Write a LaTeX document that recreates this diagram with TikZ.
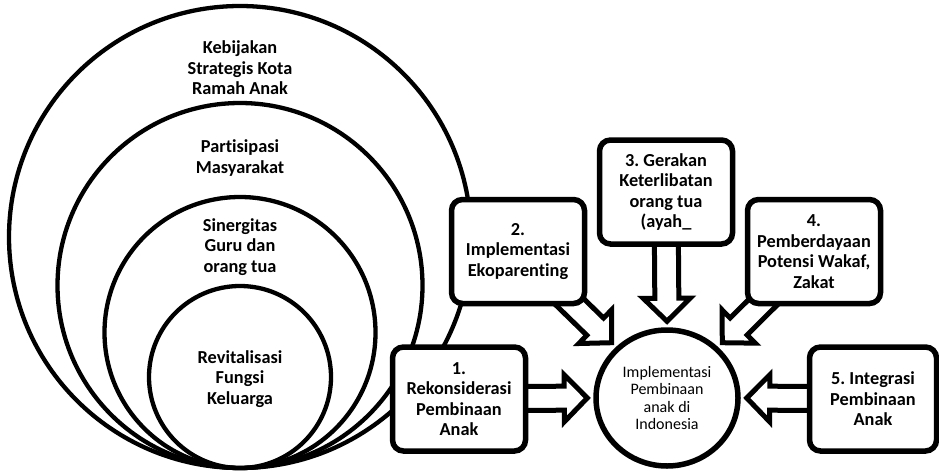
\documentclass[tikz,border=0pt]{standalone}
\usepackage{fontspec}
\setmainfont{Carlito}[Ligatures={NoCommon}]
\usetikzlibrary{calc,shapes.geometric}
\pgfdeclarelayer{back}
\pgfsetlayers{back,main}
\frenchspacing

\tikzset{
  ring/.style={circle, draw, line width=4.3pt, minimum size=#1, inner sep=0pt},
  ringlabel/.style={align=center, inner sep=0pt,
    font=\fontsize{18.3}{20.5}\selectfont\bfseries},
  stepbox/.style={draw, line width=5.5pt, rounded corners=11pt, fill=white,
    minimum width=133pt, minimum height=104pt, align=center, inner sep=0pt,
    font=\fontsize{18.3}{20.5}\selectfont\bfseries},
  goal/.style={ellipse, draw, line width=5.5pt, fill=white,
    minimum width=142pt, minimum height=136pt, align=center, inner sep=0pt,
    font=\fontsize{16}{17.5}\selectfont},
  arrowbody/.style={draw, line width=5pt, fill=white, miter limit=10}
}

% hollow block arrow from #1 to the tip #2
\newcommand\blockarrow[2]{%
  \coordinate (hb) at ($(#2)!23pt!(#1)$);
  \draw[arrowbody] ($(#1)!12pt!90:(#2)$) -- ($(hb)!12pt!90:(#2)$)
    -- ($(hb)!23.5pt!90:(#2)$) -- (#2) -- ($(hb)!23.5pt!-90:(#2)$)
    -- ($(hb)!12pt!-90:(#2)$) -- ($(#1)!12pt!-90:(#2)$) -- cycle;}

\begin{document}
\begin{tikzpicture}[x=1pt,y=-1pt]
\useasboundingbox (0,0) rectangle (939,471);

% nested rings, all touching at the bottom
\begin{pgfonlayer}{back}
\node[ring=462pt] (r1) at (240,237) {};
\node[ring=365pt] (r2) at (240,285.5) {};
\node[ring=271pt] (r3) at (240,332.5) {};
\node[ring=182pt] (r4) at (240,377) {};
\end{pgfonlayer}

\node[ringlabel] (l1) at (240,68) {Kebijakan\\Strategis Kota\\Ramah Anak};
\node[ringlabel] (l2) at (240,158) {Partisipasi\\Masyarakat};
\node[ringlabel] (l3) at (240,247) {Sinergitas\\Guru dan\\orang tua};
\node[ringlabel] (l4) at (240,379) {Revitalisasi\\Fungsi\\Keluarga};

% programme boxes
\node[stepbox] (b1) at (459,399) {1.\\Rekonsiderasi\\Pembinaan\\Anak};
\node[stepbox] (b2) at (518,251.5) {2.\\Implementasi\\Ekoparenting};
\node[stepbox] (b3) at (666,192) {3. Gerakan\\Keterlibatan\\orang tua\\(ayah\_};
\node[stepbox] (b4) at (814,251.5) {4.\\Pemberdayaan\\Potensi Wakaf,\\Zakat};
\node[stepbox, minimum width=127pt] (b5) at (873,399) {5. Integrasi\\Pembinaan\\Anak};

% central goal
\node[goal] (g) at (667,398) {Implementasi\\Pembinaan\\anak di\\Indonesia};

% arrow tips just outside the goal
\coordinate (t1) at ($(g.180)!-6pt!(g.center)$);
\coordinate (t2) at ($(g.135)!-6pt!(g.center)$);
\coordinate (t3) at ($(g.90)!-6pt!(g.center)$);
\coordinate (t4) at ($(g.45)!-6pt!(g.center)$);
\coordinate (t5) at ($(g.0)!-6pt!(g.center)$);

\begin{pgfonlayer}{back}
\blockarrow{b1.center}{t1}
\blockarrow{b2.center}{t2}
\blockarrow{b3.center}{t3}
\blockarrow{b4.center}{t4}
\blockarrow{b5.center}{t5}
\end{pgfonlayer}
\end{tikzpicture}
\end{document}
